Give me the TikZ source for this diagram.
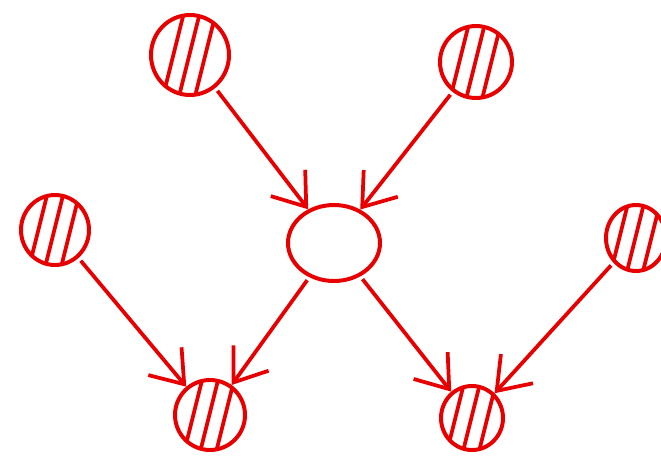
\documentclass[tikz,border=0pt]{standalone}
\usetikzlibrary{shapes.geometric,arrows.meta}
\definecolor{ink}{RGB}{232,0,0}
\tikzset{
	dotnode/.style={ellipse, draw=ink, line width=3.4pt, inner sep=0pt},
	hatchnode/.style={dotnode, path picture={
		\foreach \d in {-0.5,-0.02,0.46}{
			\draw[ink, line width=3.2pt, line cap=round]
				([xshift={(\d-0.3)*1cm}, yshift=-1.2cm]path picture bounding box.center) -- ++(0.6cm,2.4cm);
		}}},
	edgearr/.style={-{Straight Barb[length=9mm,width=13mm]}, draw=ink, line width=3.2pt, shorten <=3pt}
}
\begin{document}
\begin{tikzpicture}[x=0.03cm, y=-0.03cm]
	\useasboundingbox (0,0) rectangle (661,464);
	\node[hatchnode, minimum width=2.34cm, minimum height=2.4cm] (tl) at (190,55) {};
	\node[hatchnode, minimum width=2.16cm, minimum height=2.16cm] (tr) at (476,62) {};
	\node[dotnode, minimum width=2.76cm, minimum height=2.28cm] (mid) at (334,243) {};
	\node[hatchnode, minimum width=2.04cm, minimum height=2.1cm] (lf) at (55,230) {};
	\node[hatchnode, minimum width=1.8cm, minimum height=1.98cm] (rt) at (636,238) {};
	\node[hatchnode, minimum width=2.1cm, minimum height=2.1cm] (bl) at (210,415) {};
	\node[hatchnode, minimum width=1.86cm, minimum height=1.92cm] (br) at (472,418) {};
	\draw[edgearr] (tl)--(mid);
	\draw[edgearr] (tr)--(mid);
	\draw[edgearr] (mid)--(bl);
	\draw[edgearr] (mid)--(br);
	\draw[edgearr] (lf)--(bl);
	\draw[edgearr] (rt)--(br);
\end{tikzpicture}
\end{document}
